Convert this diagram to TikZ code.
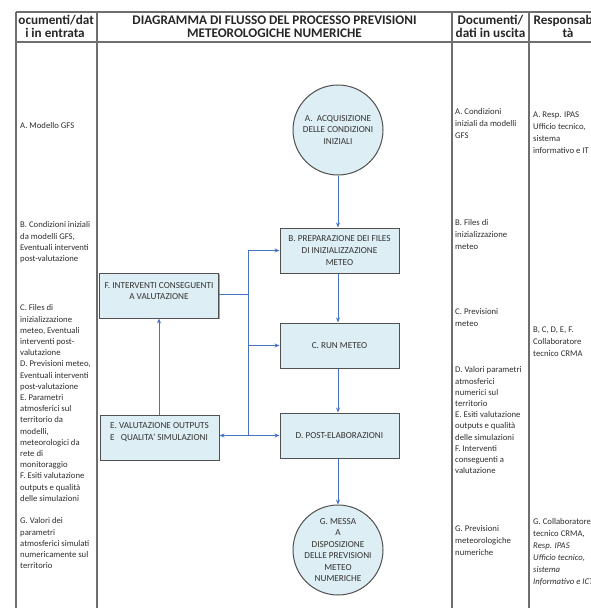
\documentclass[tikz,border=0pt]{standalone}
\usepackage{fontspec}
\setmainfont{Carlito}
\usetikzlibrary{arrows.meta,shadows}
\definecolor{boxfill}{RGB}{221,238,244}
\definecolor{boxline}{RGB}{80,80,80}
\definecolor{arrowblue}{RGB}{68,114,196}
\definecolor{gridgray}{RGB}{110,110,110}
\tikzset{
  gridline/.style={draw=gridgray,line width=1.1pt},
  hdr/.style={font=\fontsize{13.2}{13}\selectfont\bfseries,align=center,inner sep=0pt,text=black!85},
  coltext/.style={font=\fontsize{8.7}{11.2}\selectfont,align=left,anchor=north west,inner sep=0pt,text=black!82},
  restext/.style={coltext,font=\fontsize{8.7}{11.9}\selectfont},
  procbox/.style={draw=boxline,fill=boxfill,line width=1pt,minimum width=119pt,minimum height=45pt,inner sep=2pt,
    font=\fontsize{9.2}{11.5}\selectfont,align=center,text=black!80,
    drop shadow={shadow xshift=1pt,shadow yshift=-1pt,fill=black!45,opacity=0.8}},
  termcirc/.style={draw=boxline,fill=boxfill,line width=1pt,circle,minimum size=90pt,inner sep=-5pt,
    font=\fontsize{9.2}{11.4}\selectfont,align=center,text=black!80},
  arr/.style={draw=arrowblue,line width=0.9pt,-{Stealth[length=5pt,width=4pt]}},
  lnk/.style={draw=arrowblue,line width=0.9pt}
}
\begin{document}
\begin{tikzpicture}[x=1pt,y=-1pt]
\useasboundingbox (0,0) rectangle (591,608);
% header texts
\node[hdr] (h1) at (55,26.5) {Documenti/dat\hspace*{6pt}\\i in entrata};
\node[hdr] (h2) at (274.5,26.5) {DIAGRAMMA DI FLUSSO DEL PROCESSO PREVISIONI\\METEOROLOGICHE NUMERICHE};
\node[hdr] (h3) at (490.5,26.5) {Documenti/\\dati in uscita};
\node[hdr] (h4) at (568,26.5) {Responsabili\\tà};
\fill[white] (0,13) rectangle (18,28);
% grid
\draw[gridline] (16,12) -- (600,12);
\draw[gridline] (16,42) -- (600,42);
\draw[gridline] (16,12) -- (16,610);
\draw[gridline] (97,12) -- (97,610);
\draw[gridline] (452,12) -- (452,610);
\draw[gridline] (529,12) -- (529,610);
% left column
\node[coltext] (inA) at (20,122.7) {A. Modello GFS};
\node[coltext] (inB) at (20,221.7) {B. Condizioni iniziali\\da modelli GFS,\\Eventuali interventi\\post-valutazione};
\node[coltext] (inC) at (20,304.7) {C. Files di\\inizializzazione\\meteo, Eventuali\\interventi post-\\valutazione\\D. Previsioni meteo,\\Eventuali interventi\\post-valutazione\\E. Parametri\\atmosferici sul\\territorio da\\modelli,\\meteorologici da\\rete di\\monitoraggio\\F. Esiti valutazione\\outputs e qualità\\delle simulazioni};
\node[coltext] (inG) at (20,517.7) {G. Valori dei\\parametri\\atmosferici simulati\\numericamente sul\\territorio};
% output column
\node[restext] (outA) at (455,108.7) {A. Condizioni\\iniziali da modelli\\GFS};
\node[restext] (outB) at (455,219.7) {B. Files di\\inizializzazione\\meteo};
\node[restext] (outC) at (455,308.7) {C. Previsioni\\meteo};
\node[coltext] (outD) at (455,366.7) {D. Valori parametri\\atmosferici\\numerici sul\\territorio\\E. Esiti valutazione\\outputs e qualità\\delle simulazioni\\F. Interventi\\conseguenti a\\valutazione};
\node[restext] (outG) at (455,525.7) {G. Previsioni\\meteorologiche\\numeriche};
% responsibility column
\node[restext] (resA) at (533,111.7) {A. Resp. IPAS\\Ufficio tecnico,\\sistema\\informativo e IT};
\node[restext] (resB) at (533,326.7) {B, C, D, E, F.\\Collaboratore\\tecnico CRMA};
\node[restext] (resG) at (533,518.7) {G. Collaboratore\\tecnico CRMA,\\\textit{Resp. IPAS}\\\textit{Ufficio tecnico,}\\\textit{sistema}\\\textit{Informativo e ICT}};
% flow
\node[termcirc] (A) at (338,130) {A.\ \ ACQUISIZIONE\\DELLE CONDIZIONI\\INIZIALI};
\node[procbox,font=\fontsize{9.2}{12}\selectfont] (B) at (339.5,250.5) {B. PREPARAZIONE DEI FILES\\DI INIZIALIZZAZIONE\\METEO};
\node[procbox] (C) at (339.5,345.5) {C. RUN METEO};
\node[procbox] (D) at (339.5,435.5) {D. POST-ELABORAZIONI};
\node[procbox] (F) at (159,295.5) {F. INTERVENTI CONSEGUENTI\\A VALUTAZIONE\\[-3pt]\mbox{}};
\node[procbox,align=left] (E) at (159.5,437.5) {E. VALUTAZIONE OUTPUTS\\E\ \ \ QUALITA' SIMULAZIONI\\[0pt]\mbox{}};
\node[termcirc] (G) at (338,550) {G. MESSA\\A\\DISPOSIZIONE\\DELLE PREVISIONI\\METEO\\NUMERICHE};
\coordinate (j1) at (248.5,294);
\coordinate (j2) at (248.5,435.5);
\draw[arr] (A) -- (A |- B.north);
\draw[arr] (B.south -| A) -- (A |- C.north);
\draw[arr] (C.south -| A) -- (A |- D.north);
\draw[arr] (D.south -| A) -- (G);
\draw[arr] (E.north -| F) -- (F.south);
\draw[arr] (F.east |- j1) -- (j1) |- (B.west);
\draw[lnk] (j1) -- (j2);
\draw[arr] (j1 |- C.west) -- (C.west);
\draw[arr] (j2) -- (D.west);
\draw[arr] (j2) -- (E.east |- j2);
\end{tikzpicture}
\end{document}
